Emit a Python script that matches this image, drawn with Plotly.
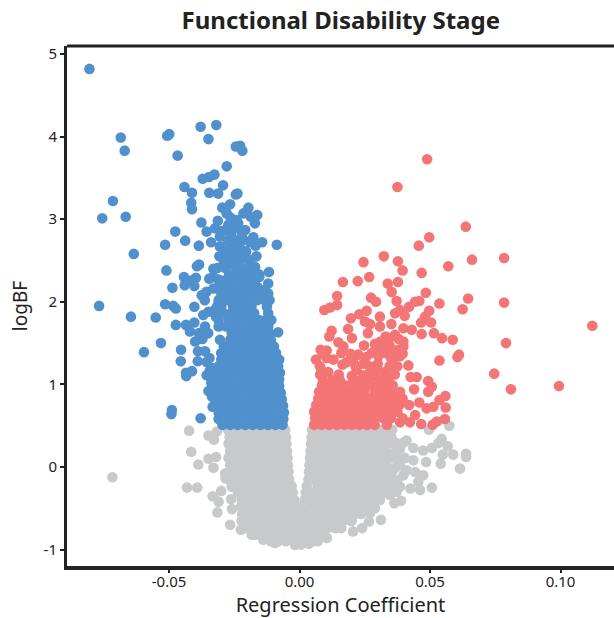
import plotly.graph_objects as go

TITLE = "Functional Disability Stage"
X_LABEL = "Regression Coefficient"
Y_LABEL = "logBF"
x_ticks = [-0.05, 0.0, 0.05, 0.10]
x_tick_text = ["-0.05", "0.00", "0.05", "0.10"]
y_ticks = [-1, 0, 1, 2, 3, 4, 5]
y_tick_text = ["-1", "0", "1", "2", "3", "4", "5"]

# Outlying grey points read one at a time: (coefficient, logBF)
grey_points = [
    (-0.0423,0.44),(-0.0717,-0.125),(-0.0415,0.185),(-0.0388,0.03),(-0.0349,0.10),(-0.032,0.12),(-0.033,-0.01),
    (-0.0349,0.38),(-0.0328,0.33),(-0.0317,0.43),(-0.0431,-0.25),(-0.0392,-0.25),(-0.0333,-0.355),(-0.031,-0.42),
    (-0.03,-0.29),(-0.0315,-0.55),(-0.0262,-0.39),(-0.0259,-0.51),(-0.0266,-0.70),(-0.0283,-0.14),(-0.0285,-0.08),
    (-0.026,-0.24),(-0.0225,-0.76),(-0.0183,-0.82),(-0.0139,-0.88),(-0.0094,-0.92),(-0.0017,-0.945),
    (0.0574,0.50),(0.0496,0.45),(0.0545,0.34),(0.0532,0.29),(0.0568,0.25),(0.0507,0.23),(0.0474,0.20),(0.0436,0.23),
    (0.0589,0.15),(0.0638,0.16),(0.0638,0.12),(0.0549,0.15),(0.0541,0.04),(0.0615,-0.02),(0.0485,0.06),(0.0436,0.08),
    (0.0404,0.11),(0.0474,-0.10),(0.0443,-0.06),(0.0411,-0.04),(0.0455,-0.18),(0.0425,-0.26),(0.0462,-0.28),
    (0.0507,-0.25),(0.0385,-0.24),(0.0372,-0.30),(0.0389,-0.41),(0.0363,-0.44),(0.0312,-0.64),(0.0266,-0.66),
    (0.0289,-0.50),(0.0308,-0.40),(0.0347,-0.34),(0.0398,-0.10),(0.0372,0.00),(0.0359,0.17),(0.0372,0.29),
    (0.0400,0.30),(0.0385,0.02),(0.0350,-0.20),(0.0005,-0.94),(0.0035,-0.93),(0.0070,-0.90),(0.0105,-0.86),
    (0.0385,0.22),(0.0370,0.12),(0.0350,-0.02),(0.0340,-0.14),(0.0360,-0.27),(0.0325,-0.22),(0.0300,-0.32),
    (0.0285,-0.44),(0.0270,-0.56),(0.0375,-0.16),(0.0410,0.32),(0.0345,0.40),(0.0240,-0.74),(0.0205,-0.78),
]
# Dense grey mass, band by band
grey_band_y = [0.45,0.36,0.28,0.19,0.11,0.02,-0.06,-0.15,-0.23,-0.31,-0.40,-0.48,-0.57,-0.65,-0.74,-0.82,-0.90]
grey_band_x = [
    [-0.0274,-0.0245,-0.0216,-0.0187,-0.0158,-0.0129,-0.0100,-0.0071,-0.0055,0.0048,0.0077,0.0106,0.0135,0.0164,0.0193,0.0222,0.0251,0.0280,0.0309,0.0338,0.0355],
    [-0.0268,-0.0239,-0.0210,-0.0181,-0.0152,-0.0123,-0.0094,-0.0065,-0.0052,0.0046,0.0062,0.0091,0.0120,0.0149,0.0178,0.0207,0.0236,0.0265,0.0294,0.0323,0.0352],
    [-0.0272,-0.0243,-0.0214,-0.0185,-0.0156,-0.0127,-0.0098,-0.0069,-0.0050,0.0044,0.0075,0.0104,0.0133,0.0162,0.0191,0.0220,0.0249,0.0278,0.0307,0.0336,0.0362],
    [-0.0266,-0.0237,-0.0208,-0.0179,-0.0150,-0.0121,-0.0092,-0.0063,-0.0048,0.0042,0.0060,0.0089,0.0118,0.0147,0.0176,0.0205,0.0234,0.0263,0.0292,0.0321,0.0330],
    [-0.0272,-0.0243,-0.0214,-0.0185,-0.0156,-0.0127,-0.0098,-0.0069,-0.0046,0.0040,0.0073,0.0102,0.0131,0.0160,0.0189,0.0218,0.0247,0.0276,0.0305,0.0334,0.0360],
    [-0.0266,-0.0237,-0.0208,-0.0179,-0.0150,-0.0121,-0.0092,-0.0063,-0.0044,0.0038,0.0058,0.0087,0.0116,0.0145,0.0174,0.0203,0.0232,0.0261,0.0290,0.0319,0.0330],
    [-0.0272,-0.0243,-0.0214,-0.0185,-0.0156,-0.0127,-0.0098,-0.0069,-0.0042,0.0036,0.0071,0.0100,0.0129,0.0158,0.0187,0.0216,0.0245,0.0274,0.0303,0.0332,0.0355],
    [-0.0270,-0.0237,-0.0208,-0.0179,-0.0150,-0.0121,-0.0092,-0.0063,-0.0040,0.0034,0.0056,0.0085,0.0114,0.0143,0.0172,0.0201,0.0230,0.0259,0.0288,0.0312,0.0340],
    [-0.0240,-0.0214,-0.0185,-0.0156,-0.0127,-0.0098,-0.0069,-0.0048,-0.0030,0.0028,0.0069,0.0098,0.0127,0.0156,0.0185,0.0214,0.0243,0.0272,0.0301,0.0330,0.0350],
    [-0.0236,-0.0208,-0.0179,-0.0150,-0.0121,-0.0092,-0.0063,-0.0040,-0.0026,0.0024,0.0054,0.0083,0.0112,0.0141,0.0170,0.0199,0.0228,0.0257,0.0286,0.0305,0.0330],
    [-0.0222,-0.0193,-0.0164,-0.0135,-0.0106,-0.0077,-0.0048,-0.0030,-0.0020,0.0020,0.0040,0.0067,0.0096,0.0125,0.0154,0.0183,0.0212,0.0241,0.0270,0.0280],
    [-0.0224,-0.0195,-0.0166,-0.0137,-0.0108,-0.0079,-0.0050,-0.0024,-0.0012,0.0012,0.0025,0.0052,0.0081,0.0110,0.0139,0.0168,0.0197,0.0226,0.0255,0.0275],
    [-0.0220,-0.0191,-0.0162,-0.0133,-0.0104,-0.0075,-0.0046,-0.0017,-0.0005,0.0006,0.0028,0.0067,0.0096,0.0125,0.0154,0.0183,0.0212,0.0235],
    [-0.0222,-0.0193,-0.0164,-0.0135,-0.0106,-0.0077,-0.0048,-0.0019,0.0000,0.0030,0.0052,0.0081,0.0110,0.0139,0.0168,0.0197,0.0200],
    [-0.0210,-0.0181,-0.0152,-0.0123,-0.0094,-0.0065,-0.0036,-0.0007,0.0022,0.0051,0.0080,0.0109,0.0138,0.0160],
    [-0.0170,-0.0141,-0.0112,-0.0083,-0.0054,-0.0025,0.0004,0.0033,0.0062,0.0091],
    [-0.0110,-0.0081,-0.0052,-0.0023,0.0006,0.0035,0.0055],
]

# Blue points read one at a time
blue_points = [
    (-0.0805,4.82),(-0.0685,3.99),(-0.067,3.83),(-0.0507,4.01),(-0.0499,4.03),(-0.0467,3.77),(-0.0379,4.12),(-0.0319,4.14),
    (-0.0349,3.97),(-0.0244,3.88),(-0.0228,3.89),(-0.0219,3.83),(-0.0279,3.64),(-0.0326,3.54),(-0.0347,3.51),(-0.0371,3.49),
    (-0.0441,3.39),(-0.0412,3.32),(-0.0293,3.41),(-0.0346,3.32),(-0.0312,3.31),(-0.0244,3.30),(-0.0238,3.31),(-0.0415,3.20),(-0.0412,3.12),
    (-0.0715,3.22),(-0.0756,3.01),(-0.0666,3.03),(-0.0635,2.58),(-0.0376,2.96),(-0.0476,2.85),(-0.0515,2.69),(-0.0438,2.74),
    (-0.0386,2.68),(-0.0356,2.85),(-0.0339,2.72),(-0.0087,2.69),(-0.0143,2.72),(-0.0169,2.68),(-0.0177,2.78),(-0.0171,2.95),
    (-0.0162,3.05),(-0.0196,3.14),(-0.0215,3.07),(-0.0187,3.03),(-0.0266,3.18),(-0.0296,3.14),(-0.0279,3.07),(-0.0313,2.98),
    (-0.0241,2.99),(-0.0273,2.93),(-0.0324,2.89),(-0.0208,2.87),(-0.0247,2.89),(-0.0305,2.79),(-0.0261,2.80),(-0.0275,2.74),
    (-0.0245,2.74),(-0.0261,2.70),(-0.0215,2.75),(-0.0305,2.67),(-0.0228,2.65),(-0.0205,2.61),(-0.0273,2.63),(-0.0307,2.55),
    (-0.0254,2.57),(-0.0273,2.51),(-0.0241,2.51),(-0.0187,2.46),(-0.0385,2.45),(-0.0393,2.43),(-0.051,2.38),(-0.0315,2.41),
    (-0.0285,2.41),(-0.0221,2.41),(-0.0192,2.39),(-0.0117,2.36),(-0.0154,2.33),(-0.0154,2.30),(-0.0443,2.30),(-0.044,2.20),
    (-0.0403,2.19),(-0.0397,2.29),(-0.0413,2.26),(-0.0487,2.17),(-0.0346,2.28),(-0.033,2.30),(-0.033,2.16),(-0.0357,2.12),(-0.0372,2.08),
    (-0.0768,1.95),(-0.0646,1.82),(-0.0551,1.81),(-0.0515,1.97),(-0.0484,1.95),(-0.0474,1.92),(-0.0403,1.94),(-0.0474,1.72),
    (-0.0531,1.50),(-0.0596,1.39),(-0.0454,1.42),(-0.0455,1.28),(-0.0434,1.10),(-0.0435,1.14),(-0.0412,1.16),(-0.0489,0.69),
    (-0.0491,0.64),(-0.0379,0.59),(-0.0082,1.63),(-0.0435,1.72),(-0.0403,1.75),(-0.042,1.64),(-0.04,1.52),(-0.0362,1.70),
    (-0.0389,1.40),(-0.0362,1.40),(-0.039,1.28),(-0.0356,1.27),(-0.0356,1.11),(-0.0349,0.92),(-0.0333,0.73),(-0.0369,1.84),
    (-0.0349,1.88),(-0.0375,2.08),(-0.0363,2.02),(-0.0385,1.62),(-0.0372,1.55),(-0.0345,1.16),(-0.0338,1.02),(-0.0345,1.32),
    (-0.0270,2.33),(-0.0240,2.36),(-0.0210,2.32),(-0.0180,2.34),(-0.0290,2.47),(-0.0260,2.45),(-0.0230,2.46),(-0.0200,2.52),
    (-0.0285,2.60),(-0.0250,2.62),(-0.0220,2.56),(-0.0270,2.85),(-0.0295,2.86),(-0.0220,2.82),(-0.0235,2.95),(-0.0265,3.02),
    (-0.0190,2.72),(-0.0335,0.85),(-0.0338,1.20),(-0.0335,0.98),(-0.0340,1.08),(-0.0120,2.22),(-0.0140,2.14),(-0.0350,1.62),
    (-0.0315,1.95),(-0.0320,1.82),(-0.0325,1.90),(-0.0165,2.55),(-0.0170,2.42),(-0.0310,2.27),(-0.0330,2.40),(-0.0108,1.78),
]
# Dense blue mass, band by band
blue_band_y = [0.51,0.58,0.66,0.74,0.82,0.90,0.98,1.06,1.14,1.22,1.30,1.38,1.46,1.54,1.62,1.70,1.78,1.86,1.94,2.02,2.10,2.18,2.26]
blue_band_x = [
    [-0.0295,-0.0266,-0.0237,-0.0208,-0.0179,-0.0150,-0.0121,-0.0092,-0.0065],
    [-0.0310,-0.0281,-0.0252,-0.0223,-0.0194,-0.0165,-0.0136,-0.0107,-0.0078,-0.0062],
    [-0.0310,-0.0290,-0.0261,-0.0232,-0.0203,-0.0174,-0.0145,-0.0116,-0.0087,-0.0060],
    [-0.0325,-0.0296,-0.0267,-0.0238,-0.0209,-0.0180,-0.0151,-0.0122,-0.0093,-0.0063],
    [-0.0320,-0.0285,-0.0256,-0.0227,-0.0198,-0.0169,-0.0140,-0.0111,-0.0082,-0.0068],
    [-0.0325,-0.0296,-0.0267,-0.0238,-0.0209,-0.0180,-0.0151,-0.0122,-0.0093,-0.0072],
    [-0.0310,-0.0281,-0.0252,-0.0223,-0.0194,-0.0165,-0.0136,-0.0107,-0.0078],
    [-0.0320,-0.0291,-0.0262,-0.0233,-0.0204,-0.0175,-0.0146,-0.0117,-0.0088,-0.0078],
    [-0.0310,-0.0281,-0.0252,-0.0223,-0.0194,-0.0165,-0.0136,-0.0107,-0.0075],
    [-0.0310,-0.0291,-0.0262,-0.0233,-0.0204,-0.0175,-0.0146,-0.0117,-0.0088,-0.0082],
    [-0.0300,-0.0271,-0.0242,-0.0213,-0.0184,-0.0155,-0.0126,-0.0097,-0.0078],
    [-0.0300,-0.0281,-0.0252,-0.0223,-0.0194,-0.0165,-0.0136,-0.0107,-0.0090],
    [-0.0290,-0.0271,-0.0242,-0.0213,-0.0184,-0.0155,-0.0126,-0.0098],
    [-0.0305,-0.0265,-0.0252,-0.0223,-0.0194,-0.0165,-0.0136,-0.0110],
    [-0.0260,-0.0242,-0.0213,-0.0184,-0.0155,-0.0126,-0.0115],
    [-0.0310,-0.0281,-0.0252,-0.0223,-0.0194,-0.0165,-0.0136,-0.0120],
    [-0.0310,-0.0271,-0.0242,-0.0213,-0.0184,-0.0155,-0.0130,-0.0120],
    [-0.0290,-0.0261,-0.0232,-0.0203,-0.0174,-0.0120],
    [-0.0300,-0.0255,-0.0232,-0.0213,-0.0184,-0.0125],
    [-0.0310,-0.0278,-0.0249,-0.0220,-0.0191,-0.0162,-0.0133,-0.0115],
    [-0.0300,-0.0271,-0.0242,-0.0213,-0.0184,-0.0155,-0.0120],
    [-0.0310,-0.0278,-0.0249,-0.0220,-0.0191,-0.0162],
    [-0.0285,-0.0255,-0.0225,-0.0195,-0.0170],
]

# Red points read one at a time
red_points = [
    (0.0489,3.725),(0.0375,3.39),(0.0637,2.91),(0.0497,2.78),(0.0457,2.68),(0.0323,2.55),(0.0245,2.48),(0.0377,2.49),
    (0.0395,2.38),(0.0661,2.51),(0.0784,2.53),(0.057,2.43),(0.0468,2.35),(0.0267,2.30),(0.0223,2.25),(0.0166,2.24),
    (0.0377,2.24),(0.0338,2.22),(0.0353,2.12),(0.0484,2.11),(0.0144,2.07),(0.0274,2.05),(0.0293,2.00),(0.0372,2.01),
    (0.0646,2.04),(0.0784,1.99),(0.0536,1.98),(0.0459,2.01),(0.0443,2.00),(0.042,1.94),(0.0144,1.96),(0.0117,1.93),
    (0.0095,1.90),(0.0625,1.91),(0.0497,1.89),(0.0257,1.89),(0.0229,1.85),(0.0197,1.80),(0.0366,1.86),(0.0385,1.90),
    (0.0403,1.83),(0.0308,1.82),(0.0481,1.82),(0.0466,1.75),(0.0504,1.75),(0.0251,1.76),(0.027,1.73),(0.0352,1.73),
    (0.1122,1.71),(0.0308,1.70),(0.0398,1.68),(0.043,1.66),(0.0186,1.67),(0.0123,1.65),(0.0114,1.58),(0.0262,1.62),
    (0.0201,1.56),(0.0468,1.61),(0.0515,1.62),(0.0546,1.56),(0.0587,1.54),(0.0791,1.50),(0.0149,1.51),(0.0247,1.47),
    (0.0289,1.49),(0.033,1.58),(0.0366,1.60),(0.0398,1.52),(0.0345,1.47),(0.0378,1.42),(0.0398,1.46),(0.0611,1.36),
    (0.0605,1.33),(0.0536,1.29),(0.0746,1.13),(0.081,0.94),(0.0994,0.98),(0.0493,1.04),(0.0507,0.97),(0.0493,0.91),
    (0.0439,0.94),(0.0449,1.09),(0.0426,1.09),(0.0417,1.23),(0.0559,0.86),(0.0536,0.81),(0.056,0.72),(0.0513,0.73),
    (0.0487,0.71),(0.0459,0.78),(0.0557,0.58),(0.0526,0.55),(0.051,0.51),(0.0466,0.52),(0.0423,0.54),(0.0385,0.54),
    (0.0443,0.63),(0.0081,1.42),(0.0104,1.41),(0.0063,1.30),(0.0104,1.32),(0.0085,1.17),(0.0079,1.12),(0.011,1.15),
    (0.0168,1.46),(0.0181,1.27),(0.0225,1.36),(0.0277,1.38),(0.0302,1.34),(0.0219,1.17),(0.027,1.15),(0.0328,1.15),
    (0.0359,1.26),(0.0385,1.34),(0.0330,1.38),(0.0350,1.32),(0.0375,1.22),(0.0345,1.22),(0.0300,1.25),(0.0245,1.25),
    (0.0195,1.37),(0.0160,1.38),(0.0130,1.30),(0.0090,1.37),(0.0200,1.10),(0.0245,1.11),(0.0290,1.10),(0.0330,1.10),(0.0365,1.12),
    (0.0078,1.22),(0.0335,1.50),(0.0380,1.55),(0.0165,1.24),(0.0310,1.52),(0.0345,1.56),(0.0365,1.40),(0.0320,1.45),
    (0.0395,1.37),(0.0290,1.42),(0.0255,1.33),(0.0215,1.22),(0.0150,1.12),(0.0270,1.22),(0.0205,1.30),(0.0300,1.18),
]
# Dense red mass, band by band
red_band_y = [0.51,0.59,0.67,0.75,0.83,0.91,0.99,1.05]
red_band_x = [
    [0.0056,0.0085,0.0114,0.0143,0.0172,0.0201,0.0230,0.0259,0.0288,0.0335],
    [0.0060,0.0089,0.0118,0.0147,0.0176,0.0205,0.0234,0.0263,0.0292,0.0321,0.0350,0.0395],
    [0.0056,0.0085,0.0114,0.0143,0.0172,0.0201,0.0230,0.0259,0.0288,0.0317,0.0346,0.0375],
    [0.0064,0.0093,0.0122,0.0151,0.0180,0.0209,0.0238,0.0267,0.0296,0.0325,0.0354,0.0383,0.0420],
    [0.0072,0.0101,0.0130,0.0159,0.0188,0.0217,0.0246,0.0275,0.0304,0.0333,0.0362,0.0395],
    [0.0075,0.0104,0.0133,0.0162,0.0191,0.0220,0.0249,0.0290,0.0319,0.0348,0.0385],
    [0.0086,0.0115,0.0144,0.0173,0.0212,0.0241,0.0270,0.0299,0.0328,0.0357],
    [0.0090,0.0125,0.0155,0.0205,0.0234,0.0263,0.0310,0.0340],
]


def expand(points, band_y, band_x):
    xs = [p[0] for p in points]
    ys = [p[1] for p in points]
    for y, row in zip(band_y, band_x):
        xs.extend(row)
        ys.extend([y] * len(row))
    return xs, ys


fig = go.Figure()
for name, pts, by, bx, color in [
    ("Not significant", grey_points, grey_band_y, grey_band_x, "#C8C9CB"),
    ("Negative", blue_points, blue_band_y, blue_band_x, "#5090CD"),
    ("Positive", red_points, red_band_y, red_band_x, "#F47575"),
]:
    xs, ys = expand(pts, by, bx)
    fig.add_trace(go.Scatter(x=xs, y=ys, mode="markers", name=name, cliponaxis=False,
                             marker=dict(color=color, size=10.6, line=dict(width=0))))

FONT = "Noto Sans"
AX = "#222222"
fig.update_layout(
    width=614, height=618, showlegend=False,
    paper_bgcolor="white", plot_bgcolor="white",
    margin=dict(l=67, r=0, t=46, b=52),
    font=dict(family=FONT, color="#222222", size=15),
    title=dict(text=f"<b>{TITLE}</b>", x=0.555, xanchor="center", y=0.966, yanchor="middle",
               font=dict(family=FONT, size=24, color="#222222")),
    shapes=[dict(type="line", xref="paper", yref="paper", x0=0, x1=1, y0=1, y1=1,
                 line=dict(color=AX, width=3))],
)
fig.update_xaxes(range=[-0.0891, 0.1205], tickvals=x_ticks, ticktext=x_tick_text,
                 showgrid=False, zeroline=False, showline=True, linecolor=AX, linewidth=4,
                 ticks="outside", ticklen=3, tickwidth=2, tickcolor=AX, ticklabelstandoff=-4,
                 title=dict(text=X_LABEL, font=dict(size=20), standoff=9), tickfont=dict(size=15))
fig.update_yaxes(range=[-1.199, 5.097], tickvals=y_ticks, ticktext=y_tick_text,
                 showgrid=False, zeroline=False, showline=True, linecolor=AX, linewidth=3,
                 ticks="outside", ticklen=4, tickwidth=2, tickcolor=AX,
                 title=dict(text=Y_LABEL, font=dict(size=19), standoff=11), tickfont=dict(size=15))
fig.write_html("out.html", post_script="document.body.style.margin='0';",
               config={"displayModeBar": False})
